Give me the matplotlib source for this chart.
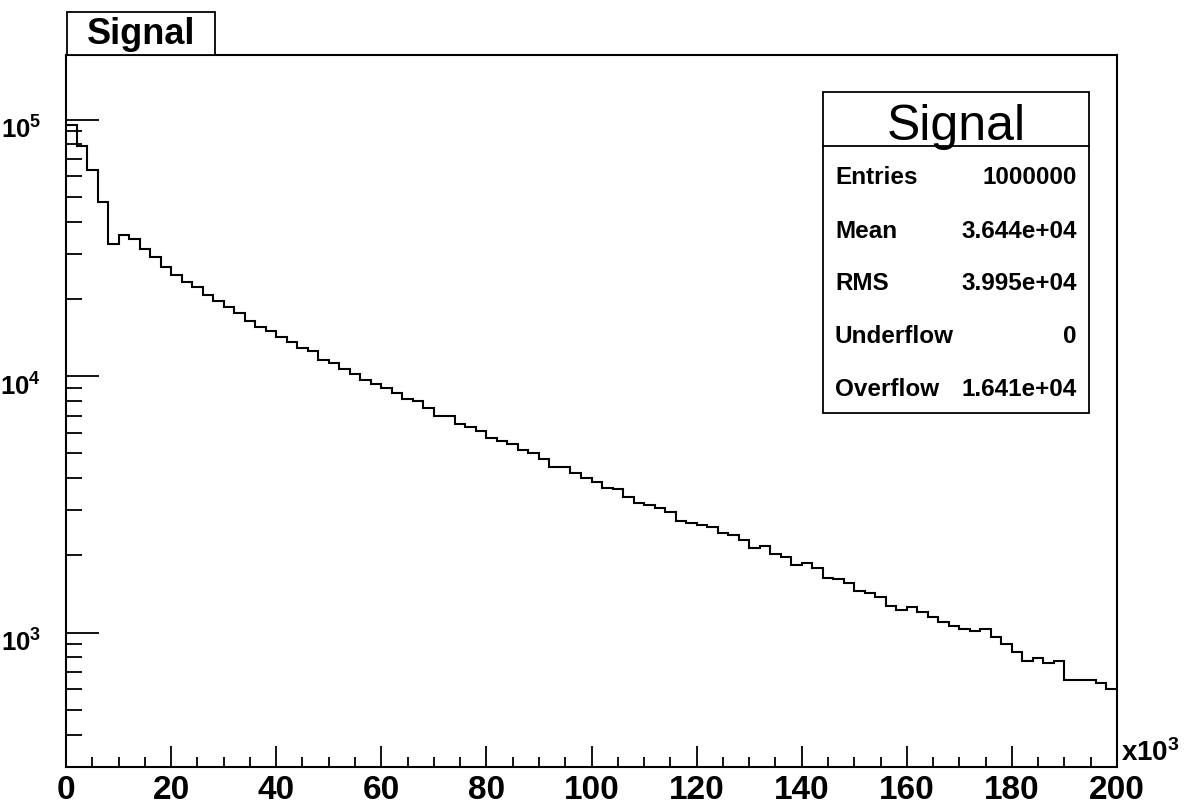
import numpy as np
import matplotlib
matplotlib.use("Agg")
from matplotlib import pyplot as plt
from matplotlib.patches import Rectangle
from matplotlib.transforms import ScaledTranslation
from matplotlib.ticker import MultipleLocator, FixedLocator, FixedFormatter, LogLocator, NullFormatter

plt.rcParams['font.family'] = ['Liberation Sans', 'DejaVu Sans']
plt.rcParams['mathtext.fontset'] = 'custom'
plt.rcParams['mathtext.rm'] = 'Liberation Sans'
plt.rcParams['mathtext.bf'] = 'Liberation Sans:bold'

# histogram "Signal": 100 bins of width 2 (x10^3) from 0 to 200
bin_width = 2
counts = [
    95200, 79070, 63550, 47560, 32700, 35550, 34120, 31190, 29030, 26540,
    24760, 23260, 22290, 20700, 19670, 18530, 17650, 16430, 15570, 14940,
    14230, 13530, 12820, 12480, 11570, 11240, 10650, 10180, 9647, 9307,
    9004, 8561, 8133, 8010, 7502, 7002, 6980, 6500, 6310, 6104,
    5747, 5595, 5431, 5147, 4996, 4747, 4408, 4400, 4186, 3992,
    3851, 3659, 3626, 3366, 3198, 3141, 3049, 2942, 2713, 2672,
    2625, 2571, 2443, 2399, 2294, 2130, 2169, 2023, 1964, 1833,
    1866, 1780, 1627, 1620, 1555, 1447, 1422, 1372, 1265, 1224,
    1262, 1205, 1152, 1102, 1063, 1032, 1016, 1030, 960, 902,
    842, 777, 795, 760, 772, 655, 655, 652, 634, 602,
]
edges = np.arange(0, bin_width * (len(counts) + 1), bin_width)

stat_labels = ["Entries", "Mean", "RMS", "Underflow", "Overflow"]
stat_values = ["1000000", "3.644e+04", "3.995e+04", "0", "1.641e+04"]

y_major = [1e3, 1e4, 1e5]
y_major_labels = [r'$\mathbf{10^{3}}$', r'$\mathbf{10^{4}}$', r'$\mathbf{10^{5}}$']

W, H = 1186, 804
fig = plt.figure(figsize=(W / 100, H / 100), dpi=100)
ax = fig.add_axes([66 / W, 1 - 768 / H, (1117 - 66) / W, (768 - 56) / H])

ax.stairs(counts, edges, baseline=None, color='black', linewidth=1.5)
ax.set_yscale('log')
ax.set_xlim(0, 200)
ax.set_ylim(299, 1.785e5)

for s in ax.spines.values():
    s.set_linewidth(1.5)

ax.xaxis.set_major_locator(MultipleLocator(20))
ax.xaxis.set_minor_locator(MultipleLocator(5))
ax.yaxis.set_major_locator(FixedLocator(y_major))
ax.yaxis.set_major_formatter(FixedFormatter(y_major_labels))
ax.yaxis.set_minor_locator(LogLocator(base=10, subs=np.arange(2, 10)))
ax.yaxis.set_minor_formatter(NullFormatter())

ax.tick_params(axis='x', which='major', direction='in', length=15, width=1.3,
               labelsize=24, pad=5, top=False)
ax.tick_params(axis='x', which='minor', direction='in', length=7.5, width=1.3, top=False)
ax.tick_params(axis='y', which='major', direction='in', length=24, width=1.3,
               labelsize=18.5, pad=18, right=False)
ax.tick_params(axis='y', which='minor', direction='in', length=11.5, width=1.3, right=False)
for lab in ax.get_xticklabels():
    lab.set_fontweight('bold')
# ROOT puts the exponent labels a little below the tick
shift = ScaledTranslation(0, -7 / 100, fig.dpi_scale_trans)
for lab in ax.get_yticklabels():
    lab.set_transform(lab.get_transform() + shift)

fig.text(1121 / W, 1 - 753 / H, r'$\mathbf{x10^{3}}$', fontsize=20, ha='left', va='center')

# title box
fig.patches.append(Rectangle((67 / W, 1 - 56 / H), 148 / W, 43 / H, transform=fig.transFigure,
                             facecolor='white', edgecolor='black', linewidth=1.3, zorder=5))
fig.text(141 / W, 1 - 35 / H, "Signal", fontsize=26, fontweight='bold',
         ha='center', va='center', zorder=6)

# stats box
bx0, bx1, by0, by1 = 823, 1089, 93, 414
fig.patches.append(Rectangle((bx0 / W, 1 - by1 / H), (bx1 - bx0) / W, (by1 - by0) / H,
                             transform=fig.transFigure, facecolor='white', edgecolor='black',
                             linewidth=1.3, zorder=5))
fig.add_artist(plt.Line2D([bx0 / W, bx1 / W], [1 - 146.7 / H] * 2, transform=fig.transFigure,
                          color='black', linewidth=1.3, zorder=6))
fig.text((bx0 + bx1) / 2 / W, 1 - 127 / H, "Signal", fontsize=36, ha='center', va='center', zorder=6)
row_y = [178, 231, 284, 337, 390]
for lab, val, yy in zip(stat_labels, stat_values, row_y):
    fig.text(835 / W, 1 - yy / H, lab, fontsize=17.5, fontweight='bold', ha='left', va='center', zorder=6)
    fig.text(1077 / W, 1 - yy / H, val, fontsize=17.5, fontweight='bold', ha='right', va='center', zorder=6)

fig.savefig("out.png", dpi=100)
